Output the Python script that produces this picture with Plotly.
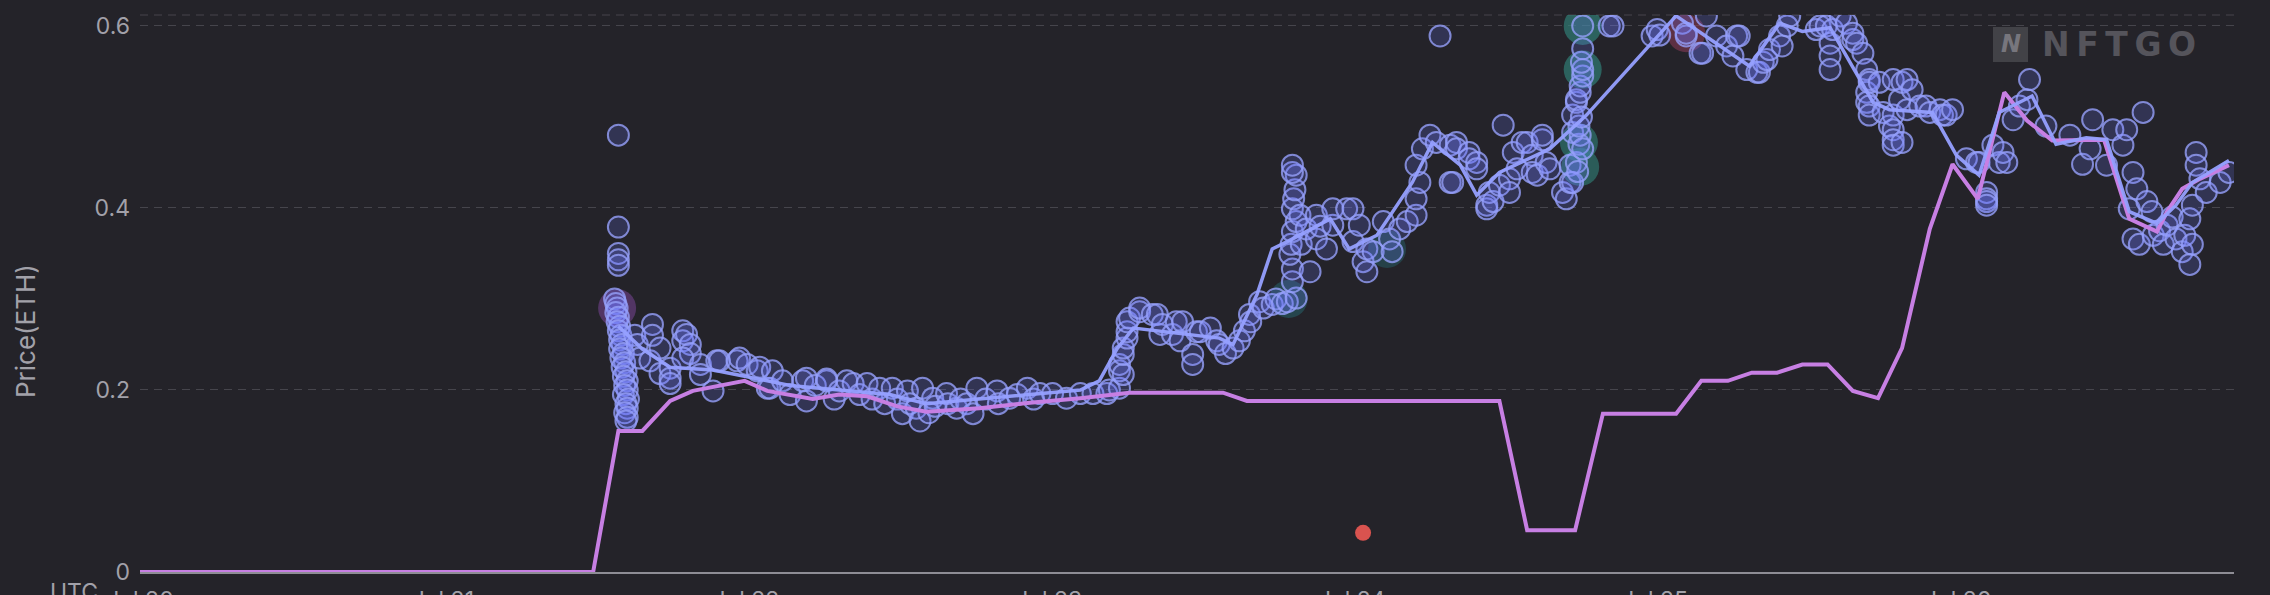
import datetime as dt
import plotly.graph_objects as go

BASE = dt.datetime(2022, 7, 20)

# ---- data (hours since Jul 20 00:00 UTC, price in ETH) ----
floor_hours = [0, 35.9, 37.9, 39.8, 42.0, 43.8, 47.9, 49.7, 53.3, 55.4, 57.6, 60.0, 62.3, 66.5, 70.5, 74.5,
               78.4, 85.8, 87.7, 107.7, 109.9, 113.7, 115.9, 121.7, 123.7, 125.8, 127.7, 129.7, 131.7, 133.7,
               135.7, 137.7, 139.6, 141.8, 143.6, 145.6, 147.7, 149.5, 151.5, 155.6, 157.6, 159.8, 160.6,
               161.8, 163.2, 165.5]
floor_prices = [0, 0, 0.155, 0.155, 0.188, 0.199, 0.21, 0.199, 0.19, 0.195, 0.193, 0.182, 0.176, 0.18, 0.186,
                0.191, 0.197, 0.197, 0.188, 0.188, 0.046, 0.046, 0.174, 0.174, 0.21, 0.21, 0.219, 0.219, 0.228,
                0.228, 0.199, 0.191, 0.246, 0.377, 0.448, 0.41, 0.527, 0.496, 0.474, 0.475, 0.388, 0.374,
                0.396, 0.421, 0.432, 0.447]

avg_hours = [37.9, 39.8, 42.0, 45.4, 47.9, 51.5, 55.4, 59.4, 62.3, 66.5, 70.5, 74.5, 76.0, 77.4, 78.7, 85.5,
             86.6, 88.5, 89.7, 90.9, 94.3, 95.8, 98.0, 100.8, 102.4, 104.6, 105.9, 107.7, 111.7, 114.6, 121.7,
             127.5, 129.9, 131.7, 133.9, 137.3, 138.6, 142.0, 143.9, 145.7, 147.3, 149.9, 151.8, 154.2, 155.8,
             157.6, 159.8, 161.3, 162.6, 165.5]
avg_prices = [0.27, 0.245, 0.225, 0.222, 0.215, 0.205, 0.2, 0.195, 0.185, 0.19, 0.195, 0.2, 0.21, 0.245, 0.268,
              0.257, 0.25, 0.305, 0.355, 0.363, 0.388, 0.355, 0.37, 0.428, 0.472, 0.447, 0.414, 0.439, 0.465,
              0.502, 0.611, 0.556, 0.603, 0.594, 0.598, 0.516, 0.508, 0.505, 0.458, 0.436, 0.505, 0.523, 0.47,
              0.477, 0.475, 0.396, 0.383, 0.403, 0.428, 0.452]

jul21_sales = [
    (37.9, 0.48), (37.9, 0.379), (37.9, 0.35), (37.9, 0.343), (37.9, 0.337),
    (37.6, 0.30), (37.7, 0.295), (37.8, 0.29), (37.7, 0.285), (37.9, 0.28), (37.8, 0.275), (38.0, 0.27),
    (37.9, 0.265), (38.1, 0.26), (38.0, 0.255), (38.2, 0.25), (38.0, 0.245), (38.3, 0.24), (38.1, 0.235),
    (38.4, 0.23), (38.2, 0.225), (38.5, 0.22), (38.3, 0.215), (38.6, 0.21), (38.4, 0.205), (38.6, 0.2),
    (38.3, 0.195), (38.7, 0.19), (38.5, 0.185), (38.6, 0.18), (38.4, 0.175), (38.6, 0.17), (38.5, 0.166),
    (39.2, 0.26), (39.4, 0.25), (39.6, 0.235), (40.4, 0.232), (40.6, 0.272), (40.6, 0.26), (41.2, 0.246),
    (41.2, 0.218), (42.0, 0.224), (42.0, 0.213), (42.0, 0.207), (43.0, 0.265), (43.0, 0.254), (43.3, 0.261),
    (43.6, 0.25), (43.6, 0.24), (43.0, 0.235), (44.4, 0.228), (44.4, 0.217), (45.4, 0.199), (45.7, 0.232),
    (45.9, 0.232), (47.3, 0.232), (47.5, 0.235),
]
jul22_sales = [
    (48.1, 0.228), (48.9, 0.221), (49.1, 0.225), (49.7, 0.202), (49.9, 0.202), (50.1, 0.221), (50.9, 0.21),
    (51.5, 0.195), (52.5, 0.21), (52.8, 0.188), (52.8, 0.213), (53.5, 0.205), (54.4, 0.21), (54.4, 0.212),
    (55.0, 0.19), (55.4, 0.199), (56.0, 0.21), (56.5, 0.207), (57.0, 0.195), (57.6, 0.207), (58.0, 0.19),
    (58.6, 0.202), (59.0, 0.185), (59.6, 0.202), (60.0, 0.19), (60.4, 0.174), (60.8, 0.199), (61.0, 0.185),
    (61.5, 0.18), (61.8, 0.166), (62.0, 0.202), (62.5, 0.175), (62.8, 0.191), (63.0, 0.182), (63.9, 0.196),
    (64.0, 0.185), (64.7, 0.18), (65.0, 0.19), (65.5, 0.185), (66.0, 0.174), (66.3, 0.202), (67.0, 0.19),
    (67.9, 0.199), (68.0, 0.185), (68.9, 0.191), (69.5, 0.195), (70.3, 0.202), (70.8, 0.19), (71.3, 0.196),
]
jul23_sales = [
    (72.3, 0.196), (73.4, 0.191), (74.5, 0.196), (75.5, 0.196), (76.6, 0.196), (76.8, 0.2), (77.6, 0.202),
    (77.6, 0.221), (77.6, 0.228), (77.9, 0.217), (77.9, 0.239), (77.9, 0.246), (78.2, 0.257), (78.2, 0.264),
    (78.2, 0.275), (78.4, 0.279), (79.2, 0.286), (79.2, 0.29), (80.2, 0.283), (80.6, 0.283), (80.8, 0.261),
    (81.0, 0.272), (81.8, 0.261), (82.1, 0.275), (82.4, 0.254), (82.6, 0.275), (83.4, 0.239), (83.4, 0.228),
    (83.7, 0.264), (84.0, 0.264), (84.8, 0.268), (85.3, 0.254), (85.5, 0.25), (86.0, 0.24), (86.6, 0.246),
    (87.1, 0.254), (87.5, 0.265), (87.9, 0.283), (88.0, 0.275), (88.7, 0.297), (89.0, 0.29), (89.7, 0.294),
    (90.0, 0.3), (90.5, 0.295), (90.9, 0.297), (91.6, 0.301), (91.3, 0.319), (91.3, 0.333), (91.1, 0.349),
    (91.2, 0.36), (91.3, 0.374), (91.6, 0.385), (91.3, 0.399), (91.4, 0.41), (91.5, 0.42), (91.6, 0.436),
    (91.3, 0.439), (91.3, 0.447), (91.9, 0.392), (92.0, 0.36), (92.4, 0.377), (92.7, 0.33), (93.2, 0.366),
    (93.2, 0.392), (93.5, 0.38), (94.0, 0.355), (94.5, 0.381), (94.5, 0.399), (95.6, 0.399),
]
jul24_sales = [
    (96.1, 0.399), (96.1, 0.363), (96.6, 0.381), (96.9, 0.341), (97.2, 0.355), (97.2, 0.33), (97.7, 0.352),
    (98.5, 0.385), (99.0, 0.366), (99.2, 0.352), (99.8, 0.377), (100.4, 0.385), (101.1, 0.392), (101.1, 0.41),
    (101.4, 0.428), (101.1, 0.447), (101.6, 0.465), (102.2, 0.48), (102.7, 0.472), (103.0, 0.589),
    (103.8, 0.469), (103.8, 0.428), (104.0, 0.428), (104.3, 0.472), (104.3, 0.465), (105.3, 0.461),
    (105.3, 0.454), (105.9, 0.45), (105.9, 0.443), (106.7, 0.403), (106.7, 0.399), (106.9, 0.417),
    (107.2, 0.407), (107.7, 0.425), (108.0, 0.491), (108.5, 0.432), (108.5, 0.417), (108.8, 0.461),
    (109.1, 0.443), (109.5, 0.472), (109.9, 0.472), (110.3, 0.458), (110.3, 0.439), (110.7, 0.436),
    (111.1, 0.475), (111.1, 0.48), (111.4, 0.45), (111.7, 0.443), (112.7, 0.417), (113.0, 0.41),
    (113.3, 0.428), (113.3, 0.447), (113.5, 0.428), (113.5, 0.483), (113.5, 0.502), (113.8, 0.45),
    (113.8, 0.516), (113.8, 0.519), (113.9, 0.44), (114.0, 0.47), (114.1, 0.48), (114.0, 0.49), (114.2, 0.5),
    (114.1, 0.527), (114.1, 0.534), (114.3, 0.465), (114.3, 0.545), (114.3, 0.552), (114.2, 0.56),
    (114.3, 0.575), (114.3, 0.6), (116.4, 0.6), (116.7, 0.6), (119.8, 0.589),
]
jul25_sales = [
    (120.2, 0.596), (120.4, 0.59), (122.2, 0.603), (122.5, 0.589), (122.5, 0.592), (123.6, 0.57), (123.8, 0.57),
    (124.1, 0.611), (124.9, 0.589), (125.7, 0.578), (126.2, 0.567), (126.5, 0.589), (126.7, 0.589),
    (127.3, 0.552), (128.1, 0.549), (128.3, 0.549), (128.6, 0.56), (128.9, 0.563), (129.1, 0.574),
    (129.9, 0.589), (130.1, 0.578), (130.5, 0.6), (130.7, 0.611), (132.8, 0.596), (133.1, 0.6), (133.6, 0.6),
    (133.9, 0.581), (133.9, 0.567), (133.9, 0.552), (134.1, 0.596), (134.7, 0.611), (135.2, 0.603),
    (135.7, 0.585), (135.7, 0.592), (136.0, 0.581), (136.5, 0.57), (136.8, 0.552), (136.8, 0.527),
    (136.8, 0.516), (137.0, 0.541), (137.0, 0.538), (137.0, 0.512), (137.0, 0.502), (137.8, 0.538),
    (138.1, 0.505), (138.6, 0.49), (138.9, 0.541), (138.9, 0.502), (138.9, 0.486), (138.9, 0.475),
    (138.9, 0.469), (139.4, 0.519), (139.6, 0.538), (139.6, 0.472), (140.0, 0.541), (140.0, 0.508),
    (140.4, 0.53), (141.0, 0.512), (141.5, 0.512), (141.8, 0.505), (142.6, 0.508), (142.8, 0.502),
    (143.1, 0.502), (143.6, 0.508),
]
jul26_sales = [
    (144.7, 0.454), (145.5, 0.45), (145.7, 0.45), (146.3, 0.417), (146.3, 0.41), (146.3, 0.407), (146.3, 0.403),
    (146.8, 0.469), (147.3, 0.45), (147.6, 0.461), (147.9, 0.45), (148.4, 0.497), (148.9, 0.512),
    (149.5, 0.519), (149.7, 0.541), (151.0, 0.49), (152.9, 0.48), (153.9, 0.448), (154.5, 0.465),
    (154.7, 0.497), (155.8, 0.447), (156.3, 0.486), (157.1, 0.469), (157.4, 0.486), (157.6, 0.399),
    (157.9, 0.439), (157.9, 0.366), (158.2, 0.421), (158.4, 0.36), (158.7, 0.505), (159.0, 0.407),
    (159.4, 0.396), (159.5, 0.37), (160.0, 0.375), (160.3, 0.36), (160.6, 0.381), (161.0, 0.39),
    (161.3, 0.366), (161.8, 0.352), (162.0, 0.37), (162.4, 0.338), (162.4, 0.388), (162.6, 0.36),
    (162.6, 0.403), (162.9, 0.461), (162.9, 0.447), (163.2, 0.432), (163.7, 0.417), (164.8, 0.428),
    (165.5, 0.439),
]

highlight_hours = [37.8, 114.3, 114.3, 114.0, 114.1, 122.5, 91.0, 98.8]
highlight_prices = [0.29, 0.6, 0.552, 0.472, 0.445, 0.592, 0.3, 0.355]
highlight_colors = ["rgba(120,70,150,0.55)", "rgba(50,140,130,0.6)", "rgba(50,140,130,0.6)",
                    "rgba(50,140,130,0.55)", "rgba(50,140,130,0.55)", "rgba(140,60,90,0.55)",
                    "rgba(40,110,120,0.45)", "rgba(40,110,120,0.4)"]

other_hours = [96.9]
other_prices = [0.043]

tick_days = [0, 1, 2, 3, 4, 5, 6]
tick_labels = ["Jul 20", "Jul 21", "Jul 22", "Jul 23", "Jul 24", "Jul 25", "Jul 26"]
y_ticks = [0, 0.2, 0.4, 0.6]
y_tick_labels = ["0", "0.2", "0.4", "0.6"]


def to_time(hours):
    return [BASE + dt.timedelta(hours=h) for h in hours]


all_sales = jul21_sales + jul22_sales + jul23_sales + jul24_sales + jul25_sales + jul26_sales
sale_hours = [s[0] for s in all_sales]
sale_prices = [s[1] for s in all_sales]

BG = "#242329"
TXT = "#a2a1a9"
FONT = "Inter, Roboto, sans-serif"

fig = go.Figure()
fig.add_trace(go.Scatter(
    x=to_time(highlight_hours), y=highlight_prices, mode="markers", hoverinfo="skip",
    marker=dict(size=38, color=highlight_colors, line=dict(width=0)), showlegend=False))
fig.add_trace(go.Scatter(
    x=to_time(sale_hours), y=sale_prices, mode="markers", name="Sales",
    marker=dict(size=21, color="rgba(110,122,255,0.2)",
                line=dict(color="rgba(150,160,250,0.8)", width=2)), showlegend=False))
fig.add_trace(go.Scatter(
    x=to_time(floor_hours), y=floor_prices, mode="lines", name="Floor",
    line=dict(color="#c77fe3", width=4), showlegend=False))
fig.add_trace(go.Scatter(
    x=to_time(avg_hours), y=avg_prices, mode="lines", name="Average",
    line=dict(color="rgba(150,160,255,0.95)", width=3.5), showlegend=False))
fig.add_trace(go.Scatter(
    x=to_time(other_hours), y=other_prices, mode="markers", name="Other",
    marker=dict(size=16, color="#d9534f"), showlegend=False))

W, H = 2270, 595
ML, MR, MT, MB = 140, 36, 15, 23
pw = W - ML - MR
ph = H - MT - MB

fig.update_layout(
    width=W, height=H,
    margin=dict(l=ML, r=MR, t=MT, b=MB, pad=0, autoexpand=False),
    paper_bgcolor=BG, plot_bgcolor=BG,
    font=dict(family=FONT, color=TXT),
    xaxis=dict(
        type="date", automargin=False,
        range=[BASE, BASE + dt.timedelta(hours=165.9)],
        tickvals=to_time([d * 24 for d in tick_days]), ticktext=tick_labels,
        showgrid=False, zeroline=False, showline=True, linecolor="#8e8d95", linewidth=2,
        ticks="", tickfont=dict(size=23, color=TXT, family=FONT), ticklabelstandoff=6,
    ),
    yaxis=dict(
        automargin=False,
        range=[0, 0.612], tickvals=y_ticks, ticktext=y_tick_labels,
        showgrid=True, gridcolor="#46454c", gridwidth=1, griddash="8px,6px",
        zeroline=False, showline=False, ticks="",
        tickfont=dict(size=23, color=TXT, family=FONT), ticklabelstandoff=9,
    ),
    shapes=[
        dict(type="line", xref="paper", yref="paper", x0=0, x1=1, y0=1, y1=1,
             line=dict(color="#46454c", width=1, dash="8px,6px"), layer="below"),
        dict(type="rect", xref="paper", yref="paper",
             x0=(1993 - ML) / pw, x1=(2028 - ML) / pw,
             y0=(H - MB - 62) / ph, y1=(H - MB - 27) / ph,
             fillcolor="rgba(255,255,255,0.14)", line=dict(width=0), layer="above"),
    ],
    annotations=[
        dict(text="UTC", xref="paper", yref="paper", x=0, y=0, xanchor="right", yanchor="top",
             xshift=-40, yshift=-4, showarrow=False, font=dict(size=23, color=TXT, family=FONT)),
        dict(text="Price(ETH)", xref="paper", yref="paper", x=(25 - ML) / pw, y=(H - MB - 331) / ph,
             xanchor="center", yanchor="middle",
             textangle=-90, showarrow=False, font=dict(size=26, color=TXT, family=FONT)),
        dict(text="<b><i>N</i></b>", xref="paper", yref="paper", x=(2010.5 - ML) / pw,
             y=(H - MB - 44.5) / ph, xanchor="center", yanchor="middle", showarrow=False,
             font=dict(size=24, color="#77767d", family="DejaVu Sans")),
        dict(text="<b>N\u2009F\u2009T\u2009G\u2009O</b>", xref="paper", yref="paper", x=(2040 - ML) / pw,
             y=(H - MB - 45) / ph, xanchor="left", yanchor="middle", showarrow=False,
             font=dict(size=33, color="#55545b", family="DejaVu Sans")),
    ],
)

fig.write_html("out.html", config={"displayModeBar": False},
               post_script="document.body.style.margin='0';document.body.style.overflow='hidden';")
